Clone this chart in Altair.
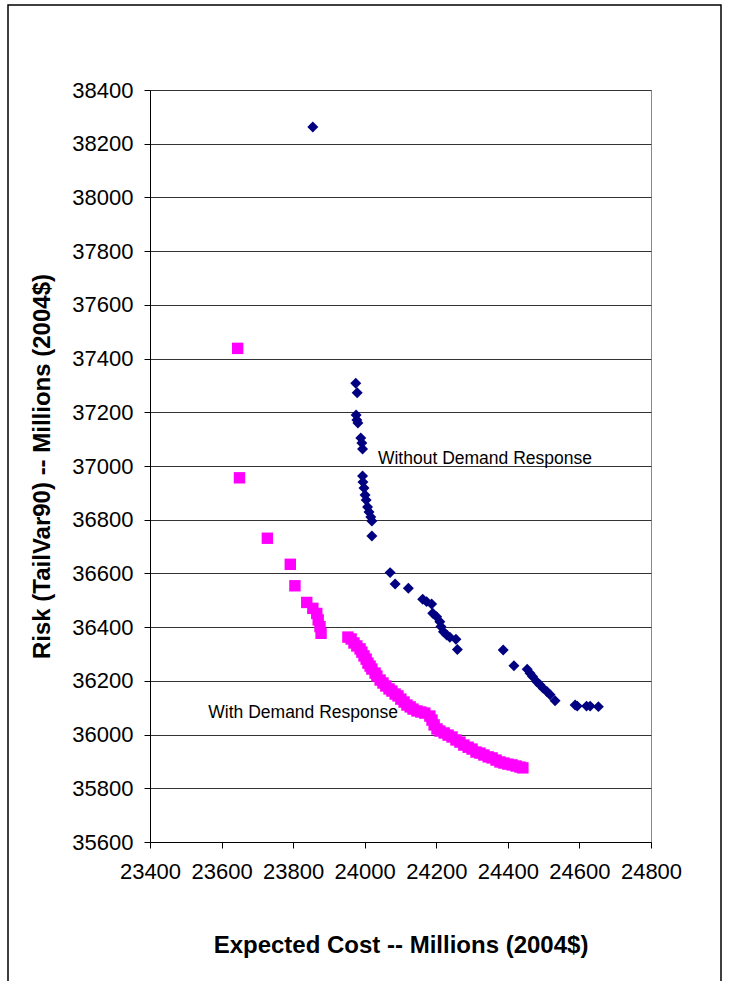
import altair as alt
import pandas as pd

# Without Demand Response (navy diamonds)
wo_cost = [23855, 23975, 23979, 23976, 23978, 23981, 23989, 23992, 23994, 23994,
           23995, 23998, 24001, 24004, 24008, 24012, 24017, 24020, 24020,
           24071, 24085, 24122, 24162, 24173, 24187, 24190, 24201, 24210, 24213,
           24220, 24229, 24238, 24255, 24259,
           24387, 24417, 24454, 24462, 24469, 24481, 24490, 24499, 24509, 24518,
           24532, 24588, 24594, 24620, 24630, 24653]
wo_risk = [38262, 37308, 37273, 37190, 37171, 37160, 37104, 37086, 37063, 36963,
           36940, 36918, 36892, 36873, 36847, 36829, 36810, 36795, 36739,
           36603, 36561, 36545, 36504, 36495, 36486, 36452, 36439, 36420, 36402,
           36383, 36371, 36362, 36355, 36317,
           36315, 36256, 36243, 36228, 36216, 36197, 36185, 36172, 36160, 36148,
           36126, 36110, 36106, 36106, 36106, 36104]

# With Demand Response (magenta squares)
w_cost = [23645, 23650, 23728, 23792, 23805, 23838, 23855, 23866, 23870, 23875, 23878,
          23953, 23962, 23970, 23978, 23987, 23992, 23998, 24004, 24009, 24015,
          24020, 24029, 24034, 24043, 24051, 24059, 24068, 24076, 24085, 24093,
          24101, 24110, 24118, 24127, 24135, 24146, 24157, 24168, 24182, 24188,
          24194, 24202, 24210, 24222, 24233, 24244, 24255, 24266, 24277, 24289,
          24300, 24311, 24322, 24333, 24345, 24356, 24367, 24378, 24389, 24400,
          24412, 24423, 24434, 24442]
w_risk = [37438, 36956, 36731, 36634, 36554, 36492, 36470, 36451, 36427, 36402, 36377,
          36363, 36356, 36341, 36330, 36319, 36307, 36293, 36281, 36266, 36255,
          36244, 36229, 36218, 36203, 36192, 36181, 36170, 36162, 36151, 36144,
          36132, 36121, 36110, 36103, 36095, 36088, 36084, 36080, 36069, 36054,
          36036, 36021, 36013, 36006, 35998, 35991, 35980, 35972, 35961, 35953,
          35946, 35935, 35931, 35924, 35917, 35913, 35905, 35898, 35894, 35890,
          35887, 35883, 35879, 35876]

label_text = ["Without Demand Response", "With Demand Response"]
label_cost = [24037, 24093]
label_risk = [37026, 36080]
label_align = ["left", "right"]

x_ticks = list(range(23400, 24801, 200))
y_ticks = list(range(35600, 38401, 200))

df_wo = pd.DataFrame({"cost": wo_cost, "risk": wo_risk})
df_w = pd.DataFrame({"cost": w_cost, "risk": w_risk})
df_lab = pd.DataFrame({"text": label_text, "cost": label_cost, "risk": label_risk,
                       "align": label_align})

FONT = "Liberation Sans"

xs = alt.Scale(domain=[23400, 24800], nice=False, zero=False)
ys = alt.Scale(domain=[35600, 38400], nice=False, zero=False)

x_enc = alt.X("cost:Q", scale=xs, axis=alt.Axis(
    values=x_ticks, title="Expected Cost -- Millions (2004$)", grid=False,
    format="d", labelFont=FONT, labelFontSize=22, labelColor="#000",
    labelPadding=13, tickSize=6, tickColor="#000", domainColor="#000",
    titleFont=FONT, titleFontSize=24, titleFontWeight="bold", titleColor="#000",
    titleBaseline="middle", titleY=103, labelFlush=False))
y_enc = alt.Y("risk:Q", scale=ys, axis=alt.Axis(
    values=y_ticks, title="Risk (TailVar90) -- Millions (2004$)", grid=True,
    gridColor="#333", gridWidth=1, format="d",
    labelFont=FONT, labelFontSize=22, labelColor="#000",
    labelPadding=11, tickSize=6, tickColor="#000", domainColor="#000",
    titleFont=FONT, titleFontSize=24, titleFontWeight="bold", titleColor="#000",
    titleBaseline="middle", titleX=-108, titleY=376, titleAngle=-90))

frame = alt.Chart(pd.DataFrame({"a": [0]})).mark_rect(
    fill=None, stroke="#000", strokeWidth=1.5
).encode(x=alt.value(-142), x2=alt.value(571), y=alt.value(-85), y2=alt.value(900))

wo = alt.Chart(df_wo).mark_point(shape="diamond", filled=True, color="#000080",
                                  size=120, opacity=1).encode(x=x_enc, y=y_enc)
w = alt.Chart(df_w).mark_point(shape="square", filled=True, color="#FF00FF",
                                size=130, opacity=1).encode(x="cost:Q", y="risk:Q")
lab_l = alt.Chart(df_lab).transform_filter(alt.datum.align == "left").mark_text(
    align="left", baseline="middle", font=FONT, fontSize=17.5, color="#000").encode(
    x="cost:Q", y="risk:Q", text="text:N")
lab_r = alt.Chart(df_lab).transform_filter(alt.datum.align == "right").mark_text(
    align="right", baseline="middle", font=FONT, fontSize=17.5, color="#000").encode(
    x="cost:Q", y="risk:Q", text="text:N")

chart = alt.layer(wo, w, lab_l, lab_r, frame).properties(
    width=501, height=752,
    autosize=alt.AutoSizeParams(type="none"),
    padding={"left": 150, "top": 90, "right": 79, "bottom": 139},
    background="white",
).configure_view(stroke="#888", strokeWidth=1)

chart.save("out.html", embed_options={"renderer": "svg", "actions": False})
